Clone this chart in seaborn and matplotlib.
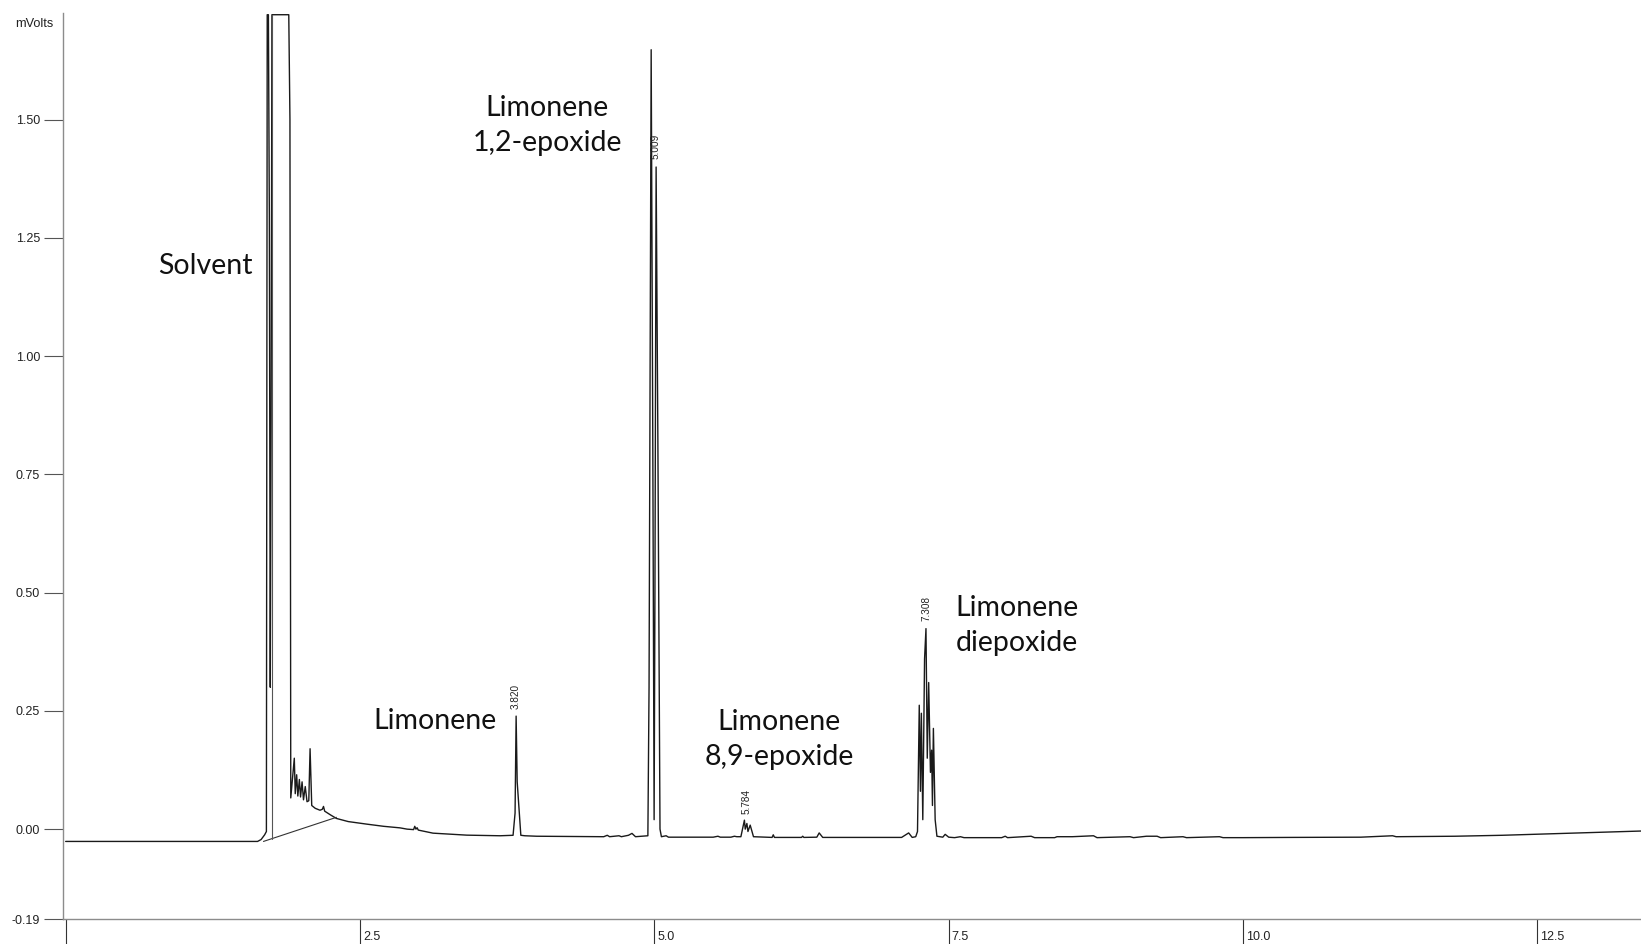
import numpy as np
import pandas as pd
import matplotlib
matplotlib.use("Agg")
import matplotlib.pyplot as plt
from matplotlib.transforms import ScaledTranslation
import seaborn as sns

# ---- data (time in min, signal in mV) ----
time = [0.00, 1.63, 1.66, 1.69, 1.705, 1.712, 1.722, 1.730, 1.738, 1.745, 1.752,
        1.895, 1.905, 1.912, 1.942, 1.950, 1.962, 1.972, 1.985, 1.995, 2.008,
        2.020, 2.035, 2.050, 2.065, 2.076, 2.090, 2.120, 2.160, 2.180, 2.190,
        2.200, 2.250, 2.300, 2.400, 2.557, 2.700, 2.840, 2.900, 2.955, 2.965,
        2.975, 2.985, 2.995, 3.120, 3.407, 3.690, 3.800, 3.817, 3.826, 3.835,
        3.866, 3.900, 4.000, 4.500, 4.570, 4.600, 4.620, 4.700, 4.720, 4.780,
        4.810, 4.840, 4.945, 4.955, 4.973, 4.987, 4.998, 5.005, 5.015, 5.030,
        5.048, 5.060, 5.100, 5.120, 5.500, 5.540, 5.560, 5.650, 5.680, 5.700,
        5.735, 5.765, 5.772, 5.786, 5.795, 5.814, 5.842, 6.000, 6.010, 6.020,
        6.250, 6.260, 6.270, 6.380, 6.400, 6.430, 7.100, 7.160, 7.190, 7.220,
        7.235, 7.250, 7.260, 7.268, 7.280, 7.295, 7.307, 7.318, 7.330, 7.345,
        7.355, 7.362, 7.370, 7.385, 7.400, 7.450, 7.470, 7.500, 7.550, 7.600,
        7.630, 7.950, 7.980, 8.000, 8.200, 8.230, 8.400, 8.420, 8.550, 8.730,
        8.760, 9.040, 9.070, 9.180, 9.270, 9.300, 9.490, 9.520, 9.800, 9.830,
        10.000, 10.400, 11.000, 11.270, 11.300, 11.800, 12.200, 12.800, 13.380]
signal = [-0.026, -0.026, -0.022, -0.012, -0.005, 1.722, 1.722, 1.300, 0.300, 0.860, 1.722,
          1.722, 1.500, 0.066, 0.150, 0.075, 0.115, 0.070, 0.105, 0.068, 0.100,
          0.062, 0.090, 0.058, 0.060, 0.170, 0.050, 0.044, 0.040, 0.042, 0.048,
          0.038, 0.030, 0.0226, 0.016, 0.0106, 0.006, 0.0027, 0.000, -0.001, 0.006,
          0.000, 0.003, -0.002, -0.0085, -0.0127, -0.014, -0.013, 0.034, 0.239, 0.100,
          -0.013, -0.014, -0.015, -0.016, -0.016, -0.013, -0.016, -0.014, -0.016, -0.013,
          -0.009, -0.016, -0.014, 0.300, 1.648, 0.800, 0.020, 0.500, 1.400, 0.820,
          0.000, -0.016, -0.014, -0.017, -0.017, -0.015, -0.017, -0.017, -0.015, -0.016,
          -0.016, 0.019, 0.000, 0.012, -0.005, 0.0085, -0.016, -0.0175, -0.012, -0.0175,
          -0.0175, -0.015, -0.0175, -0.017, -0.008, -0.0175, -0.0175, -0.008, -0.0175, -0.016,
          -0.005, 0.262, 0.080, 0.245, 0.020, 0.360, 0.424, 0.150, 0.310, 0.120,
          0.167, 0.050, 0.213, 0.020, -0.015, -0.017, -0.011, -0.017, -0.018, -0.016,
          -0.018, -0.018, -0.015, -0.018, -0.015, -0.018, -0.018, -0.016, -0.016, -0.014,
          -0.018, -0.016, -0.018, -0.015, -0.015, -0.018, -0.016, -0.018, -0.016, -0.018,
          -0.018, -0.0175, -0.017, -0.014, -0.016, -0.015, -0.013, -0.0085, -0.004]

# integration marks drawn by the software under the solvent peak
base_time = [1.68, 2.30]
base_signal = [-0.026, 0.025]
drop_time = [1.75, 1.75]
drop_signal = [-0.020, 1.722]

# retention-time labels
rt_labels = ["3.820", "5.009", "5.784", "7.308"]
rt_x = [3.826, 5.008, 5.786, 7.314]
rt_y = [0.255, 1.417, 0.033, 0.441]

# compound annotations
names = ["Solvent", "Limonene", "Limonene\n1,2-epoxide", "Limonene\n8,9-epoxide", "Limonene\ndiepoxide"]
name_x = [1.183, 3.137, 4.089, 6.06, 7.56]
name_y = [1.191, 0.228, 1.487, 0.189, 0.431]
name_ha = ["center", "center", "center", "center", "left"]

yticks = [-0.19, 0.00, 0.25, 0.50, 0.75, 1.00, 1.25, 1.50]
ytick_labels = ["-0.19", "0.00", "0.25", "0.50", "0.75", "1.00", "1.25", "1.50"]
xticks = [0.0, 2.5, 5.0, 7.5, 10.0, 12.5]
xtick_labels = ["", "2.5", "5.0", "7.5", "10.0", "12.5"]

sns.set_style("white")
plt.rcParams['font.family'] = ['Liberation Sans', 'DejaVu Sans']

fig = plt.figure(figsize=(16.41, 9.44), dpi=100)
ax = fig.add_axes([63.3 / 1641, 25 / 944, (1641 - 63.3) / 1641, (919 - 13.3) / 944])

df = pd.DataFrame({"t": time, "mV": signal})
sns.lineplot(data=df, x="t", y="mV", sort=False, estimator=None, ax=ax,
             color="#1a1a1a", linewidth=1.0)
sns.lineplot(x=base_time, y=base_signal, sort=False, estimator=None, ax=ax,
             color="#333333", linewidth=0.8)
sns.lineplot(x=drop_time, y=drop_signal, sort=False, estimator=None, ax=ax,
             color="#555555", linewidth=0.8)

ax.set_xlim(-0.02, 13.38)
ax.set_ylim(-0.19, 1.725)
ax.set_xlabel("")
ax.set_ylabel("")

for s in ["top", "right"]:
    ax.spines[s].set_visible(False)
for s in ["left", "bottom"]:
    ax.spines[s].set_color("#8c8c8c")
    ax.spines[s].set_linewidth(1.0)

ax.set_yticks(yticks)
ax.set_yticklabels(ytick_labels)
ax.set_xticks(xticks)
ax.set_xticklabels(xtick_labels, ha="left")
ax.tick_params(axis="y", direction="out", length=13.7, width=0.8, color="#555555",
               pad=2.9, labelsize=9, labelcolor="#222222", left=True)
ax.tick_params(axis="x", direction="out", length=18, width=0.8, color="#333333",
               pad=-9.4, labelsize=9, labelcolor="#222222", bottom=True)
off = ScaledTranslation(3 / 100, 0, fig.dpi_scale_trans)
for lab in ax.get_xticklabels():
    lab.set_transform(lab.get_transform() + off)

for lab, x, y in zip(rt_labels, rt_x, rt_y):
    ax.text(x, y, lab, rotation=90, ha="center", va="bottom", fontsize=7.2, color="#222222")

for nm, x, y, ha in zip(names, name_x, name_y, name_ha):
    ax.text(x, y, nm, ha=ha, va="center", fontsize=20.5, family="Lato",
            color="#111111", linespacing=1.42, multialignment="left" if ha == "left" else "center")

fig.text(34.5 / 1641, 1 - 24 / 944, "mVolts", ha="center", va="center", fontsize=9.2, color="#222222")

fig.savefig("out.png", dpi=100)
